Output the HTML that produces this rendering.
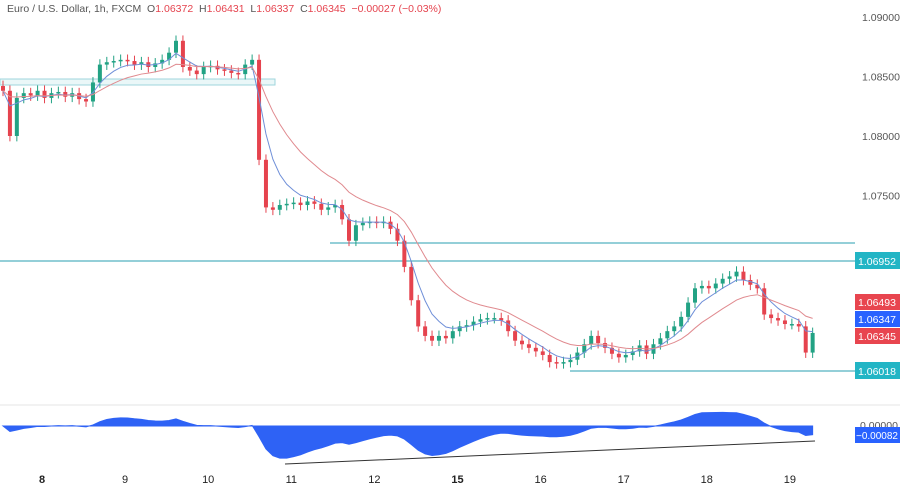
<!DOCTYPE html>
<html><head><meta charset="utf-8">
<style>
body{margin:0;background:#fff;font-family:"Liberation Sans",sans-serif;}
svg{display:block}
</style></head>
<body>
<svg id="chart" width="900" height="487" xmlns="http://www.w3.org/2000/svg" font-family="Liberation Sans, sans-serif">
<rect x="0" y="0" width="900" height="487" fill="#fff"/>
<text x="7" y="12" font-size="10.5" fill="#555" xml:space="preserve">Euro / U.S. Dollar, 1h, FXCM  O<tspan fill="#e5434e">1.06372</tspan>  H<tspan fill="#e5434e">1.06431</tspan>  L<tspan fill="#e5434e">1.06337</tspan>  C<tspan fill="#e5434e">1.06345</tspan>  <tspan fill="#e5434e">−0.00027 (−0.03%)</tspan></text>
<line x1="0" y1="405" x2="900" y2="405" stroke="#e6e6e6"/>
<rect x="0" y="79" width="275" height="6" fill="#eaf7f8" stroke="#9fd6dc" stroke-width="1"/>
<line x1="330" y1="243" x2="855" y2="243" stroke="#2a9fb0" stroke-width="1"/>
<line x1="0" y1="261" x2="855" y2="261" stroke="#2a9fb0" stroke-width="1"/>
<line x1="570" y1="371" x2="855" y2="371" stroke="#2a9fb0" stroke-width="1"/>
<g id="candles"></g>
<path id="maFast" fill="none" stroke="#6f8fd8" stroke-width="1"/>
<path id="maSlow" fill="none" stroke="#e08a8f" stroke-width="1"/>
<path id="osc" fill="#2e62f5" stroke="#2e62f5" stroke-width="1"/>
<line x1="285" y1="464" x2="815" y2="441" stroke="#333" stroke-width="1"/>
<g id="yaxis" font-size="10.5" fill="#555"></g>
<g id="xaxis" font-size="11" fill="#222"></g>
<g font-size="10.5" fill="#fff">
<rect x="855" y="252" width="45" height="17" fill="#22b5c5"/><text x="858" y="265">1.06952</text>
<rect x="855" y="294" width="45" height="16" fill="#e8454f"/><text x="858" y="306">1.06493</text>
<rect x="855" y="311" width="45" height="16" fill="#2962ff"/><text x="858" y="323">1.06347</text>
<rect x="855" y="328" width="45" height="16" fill="#e8454f"/><text x="858" y="340">1.06345</text>
<rect x="855" y="362" width="45" height="17" fill="#22b5c5"/><text x="858" y="375">1.06018</text>
<text x="860" y="429" fill="#555">0.00000</text>
<rect x="855" y="427" width="45" height="16" fill="#2962ff"/><text x="856" y="439" font-size="10">−0.00082</text>
</g>
</svg>
<script>
const closes=[1.0838,1.0800,1.0832,1.0836,1.0834,1.0838,1.0832,1.0836,1.0837,1.0833,1.0836,1.0831,1.0829,1.0845,1.0860,1.0862,1.0863,1.0864,1.0863,1.0860,1.0862,1.0858,1.0861,1.0864,1.0870,1.0880,1.0858,1.0855,1.0852,1.0858,1.0859,1.0856,1.0855,1.0853,1.0852,1.0860,1.0864,1.0780,1.0740,1.0738,1.0742,1.0743,1.0744,1.0742,1.0745,1.0743,1.0738,1.0740,1.0742,1.0730,1.0712,1.0725,1.0727,1.0728,1.0727,1.0728,1.0722,1.0712,1.0690,1.0662,1.0640,1.0632,1.0628,1.0632,1.0630,1.0636,1.0640,1.0641,1.0644,1.0646,1.0647,1.0647,1.0645,1.0636,1.0628,1.0625,1.0622,1.0619,1.0616,1.0610,1.0609,1.0610,1.0612,1.0618,1.0625,1.0632,1.0626,1.0622,1.0617,1.0614,1.0616,1.0619,1.0624,1.0617,1.0625,1.0630,1.0636,1.0640,1.0648,1.0660,1.0672,1.0674,1.0672,1.0676,1.0680,1.0682,1.0686,1.0679,1.0675,1.0672,1.0650,1.0647,1.0645,1.0642,1.0642,1.0640,1.0618,1.06345];
const firstOpen=1.0842;
const priceTicks=[1.09,1.085,1.08,1.075,1.07];
const priceTickLabels=["1.09000","1.08500","1.08000","1.07500","1.07000"];
const dayLabels=["8","9","10","11","12","15","16","17","18","19"];
const wick=0.0009;
const NS="http://www.w3.org/2000/svg";
const X=i=>3+i*6.92;
const Y=p=>17+(1.09-p)*11900;
const dayX=d=>42+d*83.1;
const OY=v=>426-v*10000;
const cg=document.getElementById('candles');
closes.forEach((c,i)=>{
  const o=i?closes[i-1]:firstOpen;
  const up=c>=o;const col=up?'#22a284':'#e5434e';
  const hi=Math.max(o,c)+wick*0.5,lo=Math.min(o,c)-wick*0.5;
  const w=document.createElementNS(NS,'line');
  
  
  w.setAttribute('x1',X(i));w.setAttribute('x2',X(i));w.setAttribute('y1',Y(hi));w.setAttribute('y2',Y(lo));w.setAttribute('stroke',col);
  cg.appendChild(w);
  const r=document.createElementNS(NS,'rect');
  
  
  const t=Y(Math.max(o,c)),b=Y(Math.min(o,c));
  r.setAttribute('x',X(i)-2);r.setAttribute('width',4);r.setAttribute('y',t);r.setAttribute('height',Math.max(1.5,b-t));r.setAttribute('fill',col);
  cg.appendChild(r);
});
function ema(arr,n){const k=2/(n+1);let e=arr[0];return arr.map(v=>e=v*k+e*(1-k));}
const f=ema(closes,5),s=ema(closes,14);
document.getElementById('maFast').setAttribute('d',f.map((v,i)=>(i?'L':'M')+X(i)+','+Y(v)).join(''));
document.getElementById('maSlow').setAttribute('d',s.map((v,i)=>(i?'L':'M')+X(i)+','+Y(v)).join(''));
const e1=ema(closes,6),e2=ema(closes,13);
const osc=e1.map((v,i)=>v-e2[i]);
document.getElementById('osc').setAttribute('d','M'+X(0)+','+OY(0)+osc.map((v,i)=>'L'+X(i)+','+OY(v)).join('')+'L'+X(osc.length-1)+','+OY(0)+'Z');
const ya=document.getElementById('yaxis');
priceTicks.forEach((p,i)=>{const t=document.createElementNS(NS,'text');


t.setAttribute('x',862);t.setAttribute('y',Y(p)+4);t.textContent=priceTickLabels[i];ya.appendChild(t);});
const xa=document.getElementById('xaxis');
dayLabels.forEach((d,i)=>{const t=document.createElementNS(NS,'text');


t.setAttribute('x',dayX(i));t.setAttribute('y',483);t.setAttribute('text-anchor','middle');
if(d==='8'||d==='15')t.setAttribute('font-weight','bold');t.textContent=d;xa.appendChild(t);});
</script>
</body></html>
